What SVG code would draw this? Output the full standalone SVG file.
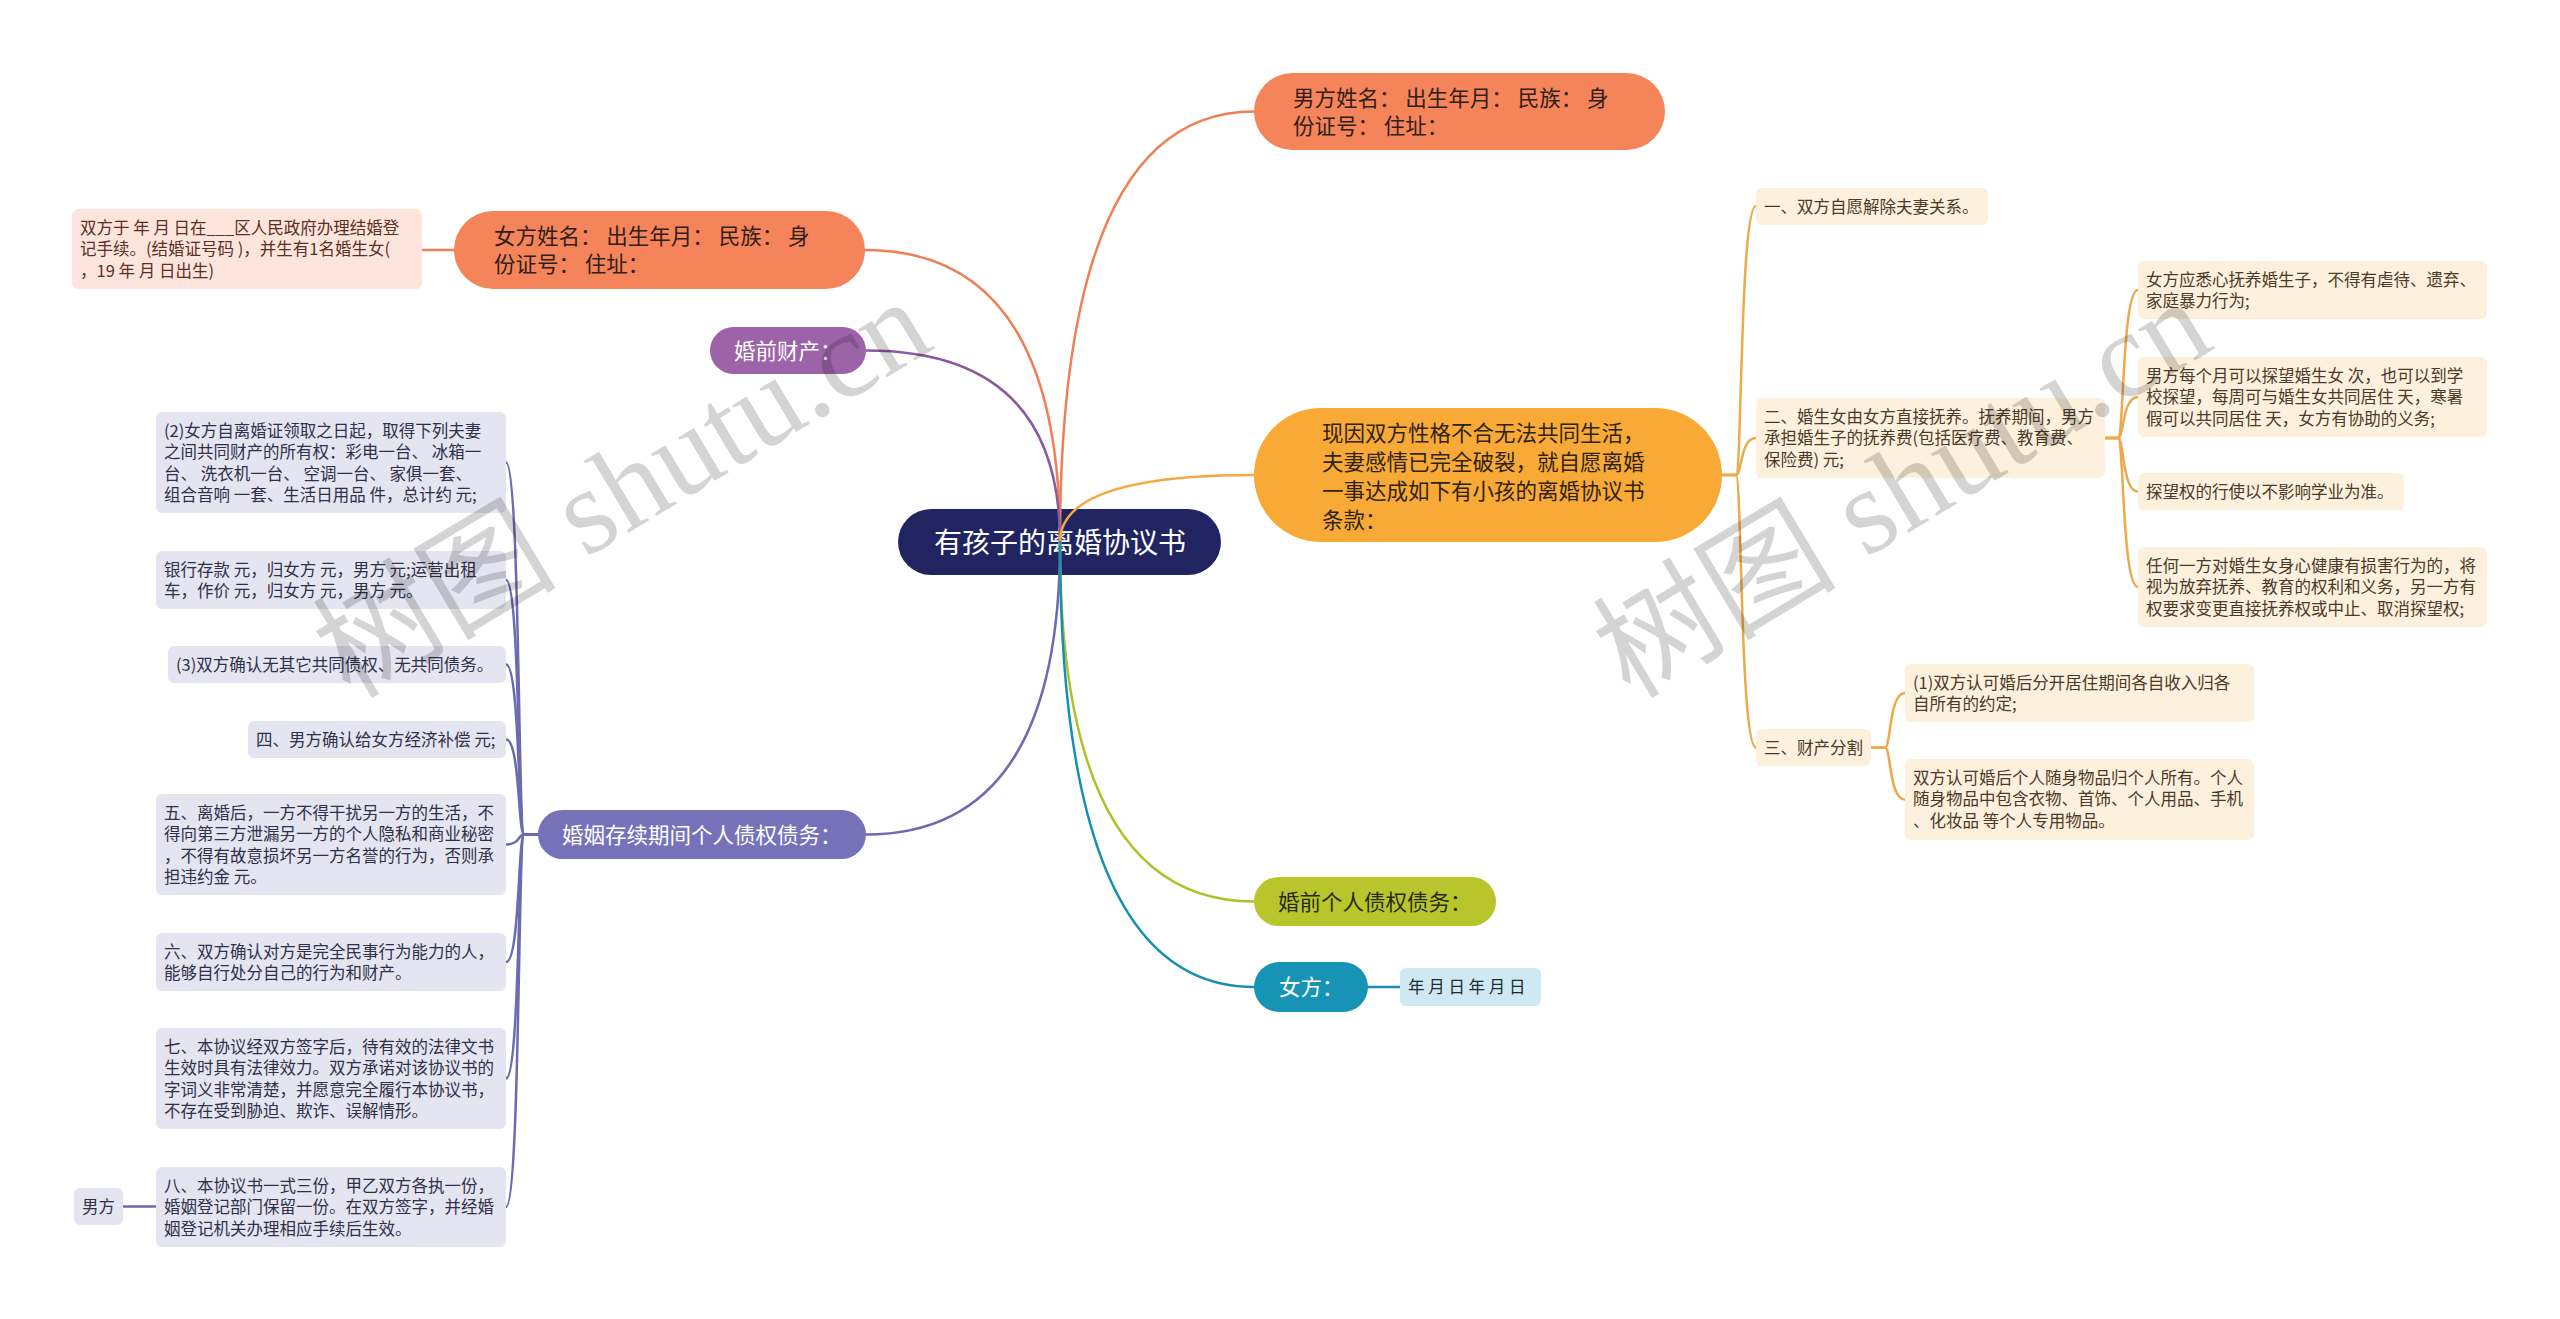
<svg xmlns="http://www.w3.org/2000/svg" width="2560" height="1319" viewBox="0 0 2560 1319">
<style>
text{font-family:"Noto Sans CJK SC","Noto Sans",sans-serif;}
.t16{font-size:16.5px;}
.t21{font-size:21.5px;}
.lav{fill:#E5E5F2;}
.pea{fill:#FDF0DC;}
.ltav{fill:#2F2F48;}
.tpea{fill:#4A3A28;}
.c{fill:none;stroke-width:2.5;stroke-linecap:round;}
.b{fill:none;stroke-width:2.5;stroke-linecap:round;}
.wm{font-family:"Liberation Serif","Noto Sans CJK SC",serif;font-size:122px;fill:#000;fill-opacity:0.17;}
</style>
<rect x="0" y="0" width="2560" height="1319" fill="#ffffff"/>

<g id="root">
<rect x="898" y="509" width="323" height="66" rx="33" fill="#202562"/>
<text x="1060" y="552.5" font-size="28" fill="#ffffff" text-anchor="middle">有孩子的离婚协议书</text>
</g>

<g id="connectors">
<path class="c" stroke="#EF7F56" d="M1060,542 Q1060,111.5 1254,111.5"/>
<path class="c" stroke="#EF7F56" d="M1060,542 Q1060,250 865,250"/>
<path class="c" stroke="#8B5A9E" d="M1060,542 Q1060,350.5 866,350.5"/>
<path class="c" stroke="#F4A93F" d="M1060,542 Q1060,475 1254,475"/>
<path class="c" stroke="#6E6AB1" d="M1060,542 Q1060,834.5 866,834.5"/>
<path class="c" stroke="#B0C12B" d="M1060,542 Q1060,901.5 1254,901.5"/>
<path class="c" stroke="#1690B1" d="M1060,542 Q1060,987 1254,987"/>
<path class="b" stroke="#EF7F56" d="M454,250 H422"/>
<path class="b" stroke="#1690B1" d="M1368,987 H1400"/>
<path class="b" stroke="#6E6AB1" d="M156,1206.5 H123"/>
<g stroke="#ECAA4A">
<path class="b" d="M1722,475 H1736 C1742,475 1740,206 1756,206"/>
<path class="b" d="M1722,475 H1736 C1742,475 1740,438 1756,438"/>
<path class="b" d="M1722,475 H1736 C1742,475 1740,747.5 1756,747.5"/>
<path class="b" d="M2105,438 H2118 C2124,438 2122,290 2138,290"/>
<path class="b" d="M2105,438 H2118 C2124,438 2122,397 2138,397"/>
<path class="b" d="M2105,438 H2118 C2124,438 2122,491.5 2138,491.5"/>
<path class="b" d="M2105,438 H2118 C2124,438 2122,587 2138,587"/>
<path class="b" d="M1871,747.5 H1885 C1891,747.5 1889,693 1905,693"/>
<path class="b" d="M1871,747.5 H1885 C1891,747.5 1889,799.5 1905,799.5"/>
</g>
<g stroke="#6E6AB1">
<path class="b" d="M538,834.5 H524 C518,834.5 520,462.5 506,462.5"/>
<path class="b" d="M538,834.5 H524 C518,834.5 520,580 506,580"/>
<path class="b" d="M538,834.5 H524 C518,834.5 520,664.5 506,664.5"/>
<path class="b" d="M538,834.5 H524 C518,834.5 520,739.5 506,739.5"/>
<path class="b" d="M538,834.5 H524 C518,834.5 520,844.5 506,844.5"/>
<path class="b" d="M538,834.5 H524 C518,834.5 520,962 506,962"/>
<path class="b" d="M538,834.5 H524 C518,834.5 520,1078.5 506,1078.5"/>
<path class="b" d="M538,834.5 H524 C518,834.5 520,1207 506,1207"/>
</g>
</g>

<g id="n-nanfang">
<rect x="1254" y="73" width="411" height="77" rx="38.5" fill="#F5845B"/>
<text class="t21" fill="#2E2018"><tspan x="1293" y="105.5">男方姓名： 出生年月： 民族： 身</tspan><tspan x="1293" y="133.5">份证号： 住址：</tspan></text>
</g>

<g id="n-nvfang">
<rect x="454" y="211" width="411" height="78" rx="39" fill="#F5845B"/>
<text class="t21" fill="#2E2018"><tspan x="494" y="244">女方姓名： 出生年月： 民族： 身</tspan><tspan x="494" y="272">份证号： 住址：</tspan></text>
</g>

<g id="n-nvfang-detail">
<rect x="72" y="209" width="350" height="80" rx="6" fill="#FDE5DD"/>
<text class="t16" fill="#5C2F22"><tspan x="80" y="233.5">双方于 年 月 日在___区人民政府办理结婚登</tspan><tspan x="80" y="255">记手续。(结婚证号码 )，并生有1名婚生女(</tspan><tspan x="80" y="276.5">，19 年 月 日出生)</tspan></text>
</g>

<g id="n-hunqiancaichan">
<rect x="710" y="327" width="156" height="47" rx="23.5" fill="#9D63A9"/>
<text class="t21" x="734" y="358.5" fill="#ffffff">婚前财产：</text>
</g>

<g id="n-hunyin">
<rect x="538" y="810" width="328" height="49" rx="24.5" fill="#7672BA"/>
<text class="t21" x="562" y="842.5" fill="#ffffff">婚姻存续期间个人债权债务：</text>
</g>

<g id="n-l1">
<rect class="lav" x="156" y="412" width="350" height="101" rx="6"/>
<text class="t16 ltav"><tspan x="164" y="436.5">(2)女方自离婚证领取之日起，取得下列夫妻</tspan><tspan x="164" y="458">之间共同财产的所有权：彩电一台、 冰箱一</tspan><tspan x="164" y="479.5">台、 洗衣机一台、 空调一台、 家俱一套、</tspan><tspan x="164" y="501">组合音响 一套、生活日用品 件，总计约 元;</tspan></text>
</g>
<g id="n-l2">
<rect class="lav" x="156" y="551" width="350" height="58" rx="6"/>
<text class="t16 ltav"><tspan x="164" y="575.5">银行存款 元，归女方 元，男方 元;运营出租</tspan><tspan x="164" y="597">车，作价 元，归女方 元，男方 元。</tspan></text>
</g>
<g id="n-l3">
<rect class="lav" x="168" y="646" width="338" height="37" rx="6"/>
<text class="t16 ltav" x="176" y="670.5">(3)双方确认无其它共同债权、无共同债务。</text>
</g>
<g id="n-l4">
<rect class="lav" x="248" y="721" width="258" height="37" rx="6"/>
<text class="t16 ltav" x="256" y="745.5">四、男方确认给女方经济补偿 元;</text>
</g>
<g id="n-l5">
<rect class="lav" x="156" y="794" width="350" height="101" rx="6"/>
<text class="t16 ltav"><tspan x="164" y="818.5">五、离婚后，一方不得干扰另一方的生活，不</tspan><tspan x="164" y="840">得向第三方泄漏另一方的个人隐私和商业秘密</tspan><tspan x="164" y="861.5">，不得有故意损坏另一方名誉的行为，否则承</tspan><tspan x="164" y="883">担违约金 元。</tspan></text>
</g>
<g id="n-l6">
<rect class="lav" x="156" y="933" width="350" height="58" rx="6"/>
<text class="t16 ltav"><tspan x="164" y="957.5">六、双方确认对方是完全民事行为能力的人，</tspan><tspan x="164" y="979">能够自行处分自己的行为和财产。</tspan></text>
</g>
<g id="n-l7">
<rect class="lav" x="156" y="1028" width="350" height="101" rx="6"/>
<text class="t16 ltav"><tspan x="164" y="1052.5">七、本协议经双方签字后，待有效的法律文书</tspan><tspan x="164" y="1074">生效时具有法律效力。双方承诺对该协议书的</tspan><tspan x="164" y="1095.5">字词义非常清楚，并愿意完全履行本协议书，</tspan><tspan x="164" y="1117">不存在受到胁迫、欺诈、误解情形。</tspan></text>
</g>
<g id="n-l8">
<rect class="lav" x="156" y="1167" width="350" height="80" rx="6"/>
<text class="t16 ltav"><tspan x="164" y="1191.5">八、本协议书一式三份，甲乙双方各执一份，</tspan><tspan x="164" y="1213">婚姻登记部门保留一份。在双方签字，并经婚</tspan><tspan x="164" y="1234.5">姻登记机关办理相应手续后生效。</tspan></text>
</g>
<g id="n-l8-nanfang">
<rect class="lav" x="74" y="1188" width="49" height="37" rx="6"/>
<text class="t16 ltav" x="82" y="1212.5">男方</text>
</g>

<g id="n-xianyin">
<rect x="1254" y="408" width="468" height="134" rx="67" fill="#F9AA36"/>
<text class="t21" fill="#2E2410"><tspan x="1322" y="441">现因双方性格不合无法共同生活，</tspan><tspan x="1322" y="470">夫妻感情已完全破裂，就自愿离婚</tspan><tspan x="1322" y="499">一事达成如下有小孩的离婚协议书</tspan><tspan x="1322" y="528">条款：</tspan></text>
</g>

<g id="n-r1">
<rect class="pea" x="1756" y="188" width="232" height="37" rx="6"/>
<text class="t16 tpea" x="1764" y="212.5">一、双方自愿解除夫妻关系。</text>
</g>
<g id="n-r2">
<rect class="pea" x="1756" y="398" width="349" height="80" rx="6"/>
<text class="t16 tpea"><tspan x="1764" y="422.5">二、婚生女由女方直接抚养。抚养期间，男方</tspan><tspan x="1764" y="444">承担婚生子的抚养费(包括医疗费、教育费、</tspan><tspan x="1764" y="465.5">保险费) 元;</tspan></text>
</g>
<g id="n-r2a">
<rect class="pea" x="2138" y="261" width="349" height="58" rx="6"/>
<text class="t16 tpea"><tspan x="2146" y="285.5">女方应悉心抚养婚生子，不得有虐待、遗弃、</tspan><tspan x="2146" y="307">家庭暴力行为;</tspan></text>
</g>
<g id="n-r2b">
<rect class="pea" x="2138" y="357" width="349" height="80" rx="6"/>
<text class="t16 tpea"><tspan x="2146" y="381.5">男方每个月可以探望婚生女 次，也可以到学</tspan><tspan x="2146" y="403">校探望，每周可与婚生女共同居住 天，寒暑</tspan><tspan x="2146" y="424.5">假可以共同居住 天，女方有协助的义务;</tspan></text>
</g>
<g id="n-r2c">
<rect class="pea" x="2138" y="473" width="266" height="37" rx="6"/>
<text class="t16 tpea" x="2146" y="497.5">探望权的行使以不影响学业为准。</text>
</g>
<g id="n-r2d">
<rect class="pea" x="2138" y="547" width="349" height="80" rx="6"/>
<text class="t16 tpea"><tspan x="2146" y="571.5">任何一方对婚生女身心健康有损害行为的，将</tspan><tspan x="2146" y="593">视为放弃抚养、教育的权利和义务，另一方有</tspan><tspan x="2146" y="614.5">权要求变更直接抚养权或中止、取消探望权;</tspan></text>
</g>
<g id="n-r3">
<rect class="pea" x="1756" y="729" width="115" height="37" rx="6"/>
<text class="t16 tpea" x="1764" y="753.5">三、财产分割</text>
</g>
<g id="n-r3a">
<rect class="pea" x="1905" y="664" width="349" height="58" rx="6"/>
<text class="t16 tpea"><tspan x="1913" y="688.5">(1)双方认可婚后分开居住期间各自收入归各</tspan><tspan x="1913" y="710">自所有的约定;</tspan></text>
</g>
<g id="n-r3b">
<rect class="pea" x="1905" y="759" width="349" height="81" rx="6"/>
<text class="t16 tpea"><tspan x="1913" y="783.5">双方认可婚后个人随身物品归个人所有。个人</tspan><tspan x="1913" y="805">随身物品中包含衣物、首饰、个人用品、手机</tspan><tspan x="1913" y="826.5">、化妆品 等个人专用物品。</tspan></text>
</g>

<g id="n-hunqiangeren">
<rect x="1254" y="877" width="242" height="49" rx="24.5" fill="#B9C62B"/>
<text class="t21" x="1278" y="909.5" fill="#2A2A10">婚前个人债权债务：</text>
</g>

<g id="n-nvfang2">
<rect x="1254" y="962" width="114" height="50" rx="25" fill="#1794B5"/>
<text class="t21" x="1279" y="995" fill="#ffffff">女方：</text>
</g>
<g id="n-nvfang2-date">
<rect x="1400" y="968" width="141" height="38" rx="6" fill="#CFE9F2"/>
<text class="t16" x="1408" y="993.3" fill="#1E2A30">年 月 日 年 月 日</text>
</g>

<g id="watermark">
<text class="wm" transform="translate(350,700) rotate(-31)">树图 shutu.cn</text>
<text class="wm" transform="translate(1630,700) rotate(-31)">树图 shutu.cn</text>
</g>
</svg>
